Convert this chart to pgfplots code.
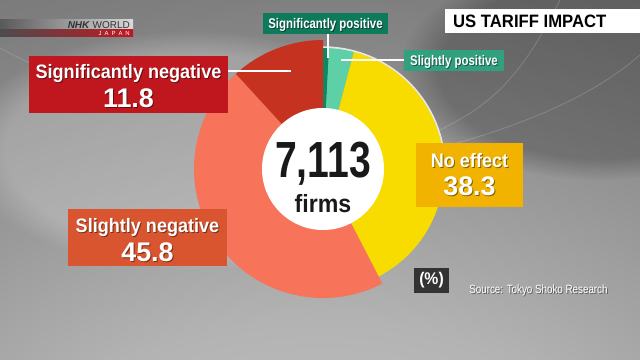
\documentclass[border=0pt]{standalone}
\usepackage{pgfplots}
\pgfplotsset{compat=1.18}
\usepackage{pgfplotstable}
\usetikzlibrary{fadings}
\usepackage{fontspec}
\setmainfont{Liberation Sans}[FakeStretch=0.93]
\newfontfamily\narrowf{Liberation Sans}[FakeStretch=0.82]
\newfontfamily\numf{Liberation Sans}
\newfontfamily\cnum{Liberation Sans}[FakeStretch=0.77]

\definecolor{cSigPos}{HTML}{0B8A62}
\definecolor{cSliPos}{HTML}{5ED0A8}
\definecolor{cNoEff}{HTML}{F8DC00}
\definecolor{cSliNeg}{HTML}{F7735A}
\definecolor{cSigNeg}{HTML}{C53220}
\definecolor{bSigPos}{HTML}{0E7A5C}
\definecolor{bSliPos}{HTML}{31A07E}
\definecolor{bNoEff}{HTML}{F2B300}
\definecolor{bSliNeg}{HTML}{D9552F}
\definecolor{bSigNeg}{HTML}{C0171F}
\definecolor{bgA}{HTML}{C6C7C6}
\definecolor{bgB}{HTML}{B2B3B2}
\definecolor{bgC}{HTML}{989898}
\definecolor{bgD}{HTML}{7E7E7E}
\definecolor{bgE}{HTML}{686868}
\definecolor{bgF}{HTML}{575757}

\pgfdeclareradialshading{bgshade}{\pgfpoint{0bp}{-50bp}}{color(0bp)=(bgA); color(22bp)=(bgB); color(38bp)=(bgC); color(55bp)=(bgD); color(80bp)=(bgE); color(110bp)=(bgF); color(130bp)=(bgF)}

\pgfplotstableread{
slice value radius color
SigPos 0.8 121 cSigPos
SliPos 3.3 121 cSliPos
NoEff 38.3 121 cNoEff
SliNeg 45.8 129 cSliNeg
SigNeg 11.8 129 cSigNeg
}\piedata

\newcommand\fs[1]{\fontsize{#1}{#1}\selectfont}
\newcommand\stext[4]{%
  \node[anchor=base, inner sep=0, text=black, opacity=0.45, font=#3] at ({#1+1},{#2+1}) {#4};
  \node[anchor=base, inner sep=0, text=white, font=#3] at (#1,#2) {#4};}

\begin{document}
\begin{tikzpicture}
\useasboundingbox (0,0) rectangle (640bp,360bp);
\shade[shading=bgshade] (0,0) rectangle (640bp,360bp);
\begin{scope}[shift={(0,360bp)}, x=1bp, y=-1bp]
  \fill[white, opacity=0.22, path fading=circle with fuzzy edge 20 percent] (190,150) ellipse [x radius=230, y radius=120];
  \fill[black, opacity=0.22, path fading=circle with fuzzy edge 20 percent] (600,70) ellipse [x radius=200, y radius=110];
  \draw[white, opacity=0.18, line width=0.8bp] (440,130) .. controls (490,105) and (520,80) .. (560,0);
  \draw[white, opacity=0.18, line width=0.8bp] (450,145) .. controls (540,120) and (600,90) .. (640,55);
  \draw[white, opacity=0.15, line width=0.8bp] (0,48) .. controls (40,70) and (80,85) .. (130,95);
\end{scope}

\begin{axis}[at={(0,0)}, anchor=south west, x=1bp, y=1bp,
  xmin=0, xmax=640, ymin=0, ymax=360, hide axis, clip=false]
  % light rim
  \draw[white!80!gray, line width=2.5bp] (axis cs:323,191) ++(92:121.5bp) arc[start angle=92, end angle=-8, radius=121.5bp];
  \pgfmathsetmacro{\cum}{0}
  \pgfplotsforeachungrouped \i in {0,...,4}{%
    \pgfplotstablegetelem{\i}{value}\of\piedata \let\val\pgfplotsretval
    \pgfplotstablegetelem{\i}{radius}\of\piedata \let\rad\pgfplotsretval
    \pgfplotstablegetelem{\i}{color}\of\piedata \let\col\pgfplotsretval
    \pgfmathsetmacro{\sa}{90-3.6*\cum}
    \pgfmathsetmacro{\ea}{90-3.6*(\cum+\val)}
    \edef\temp{\noexpand\fill[\col] (axis cs:323,191) -- ++(\sa:\rad bp) arc[start angle=\sa, end angle=\ea, radius=\rad bp] -- cycle;}
    \temp
    \pgfmathsetmacro{\cum}{\cum+\val}
  }
  \fill[white] (axis cs:323,191) circle[radius=61bp];
\end{axis}

\begin{scope}[shift={(0,360bp)}, x=1bp, y=-1bp]
  % NHK logo
  \shade[left color=gray!70!black, right color=gray!30] (0,20) rectangle (133,30);
  \shade[left color=gray!60!black, right color=bSigNeg] (0,30) rectangle (133,37);
  \node[anchor=base east, inner sep=0, font=\numf\fs{10}, text=black!80] at (130,29) {\textbf{\textit{NHK}} WORLD};
  \node[anchor=base east, inner sep=0, font=\numf\fs{6}, text=white] at (130,36) {J\,\,\,A\,\,\,P\,\,\,A\,\,\,N};

  % title
  \fill[white] (445,9) rectangle (640,33);
  \node[anchor=base west, inner sep=0, font=\bfseries\fs{18}] at (453,28) {US TARIFF IMPACT};

  % connectors
  \draw[white, line width=1.6bp] (328,34) -- (328,58);
  \draw[white, line width=1.6bp] (341,60) -- (404,60);
  \draw[white, line width=1.6bp] (228,71) -- (291,71);

  % boxes
  \fill[bSigPos] (263,13) rectangle (388,34);
  \stext{325.5}{29}{\narrowf\bfseries\fs{14}}{Significantly positive}
  \fill[bSliPos] (404,50) rectangle (504,71);
  \stext{454}{66}{\narrowf\bfseries\fs{14}}{Slightly positive}

  \fill[bSigNeg] (29,56) rectangle (228,113);
  \stext{128.5}{79}{\bfseries\fs{19.5}}{Significantly negative}
  \stext{128.5}{108}{\numf\bfseries\fs{27}}{11.8}

  \fill[bSliNeg] (68,209) rectangle (227,266);
  \stext{147.5}{233}{\bfseries\fs{19.5}}{Slightly negative}
  \stext{147.5}{262}{\numf\bfseries\fs{27}}{45.8}

  \fill[bNoEff] (416,143) rectangle (523,207);
  \stext{469.5}{168}{\bfseries\fs{19.5}}{No effect}
  \stext{469.5}{196}{\numf\bfseries\fs{27}}{38.3}

  % center
  \node[anchor=base, inner sep=0, font=\cnum\bfseries\fs{51}, text=black!90] at (323,178) {7,113};
  \node[anchor=base, inner sep=0, font=\bfseries\fs{25}, text=black!90] at (323,213) {firms};

  % unit and source
  \fill[gray!40!black] (414,268) rectangle (449,293);
  \node[inner sep=0, font=\bfseries\fs{17}, text=white] at (431.5,280.5) {(\%)};
  \stext{538.5}{294}{\narrowf\fs{12}}{Source: Tokyo Shoko Research}
\end{scope}
\end{tikzpicture}
\end{document}
